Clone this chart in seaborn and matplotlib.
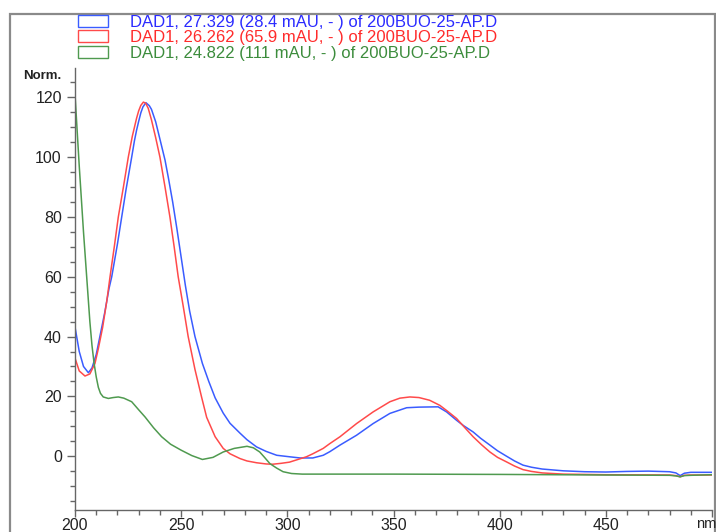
import numpy as np
import pandas as pd
import matplotlib
matplotlib.use("Agg")
import matplotlib.pyplot as plt
from matplotlib.patches import Patch, Rectangle
from matplotlib.ticker import MultipleLocator
import seaborn as sns

# ---------------- data ----------------
blue_nm = [200, 202, 204, 206.3, 208, 210, 212, 214, 216, 217.3, 220, 222, 224, 226.7, 228, 229, 230,
           231, 232, 233.4, 235, 236, 238, 240, 242.4, 244, 246, 248, 250, 252, 254, 256.5,
           260, 263, 266, 269.8, 273, 277.7, 281, 285.5, 290, 295, 301, 306, 312, 316.9, 320, 324.8,
           332.6, 340.4, 348.3, 356.2, 362, 371, 375, 379.7, 383, 387.5, 391, 395.4, 399, 403.2,
           407, 411, 415, 420, 430, 440, 450, 460, 470, 480, 483, 485, 487, 490, 500]
blue_val = [43.2, 35, 30, 27.9, 29.5, 34, 41, 48, 56, 60, 71, 80, 89, 100, 105.5, 109, 112,
            114.8, 116.8, 118.2, 117.2, 116, 111.8, 106, 99, 93, 85, 76, 66.5, 57, 48.5, 40,
            31, 25, 19.5, 14.4, 11, 7.7, 5.5, 3.1, 1.6, 0.3, -0.2, -0.6, -0.6, 0.3, 1.5, 3.7,
            7, 10.9, 14.3, 16.2, 16.4, 16.5, 14.8, 12, 10.2, 8.1, 6, 3.7, 1.8, 0,
            -1.6, -3, -3.7, -4.3, -4.9, -5.2, -5.3, -5.1, -5.0, -5.2, -5.6, -6.5, -5.7, -5.4, -5.4]

red_nm = [200, 202, 204.7, 207, 209.4, 211, 213, 215, 216.5, 218.5, 220.4, 222.8, 225.1, 227, 229,
          230, 231, 232.2, 233.3, 234.5, 236, 238, 240, 242.4, 244.7, 246.7, 248.6, 251, 253.3,
          256.5, 259.6, 262, 266, 269.8, 273, 277.7, 281, 285.5, 290, 293, 297, 301, 305, 309, 312,
          316.9, 320, 324.8, 332.6, 340.4, 348.3, 353, 357.7, 362, 367, 371.8, 375.5, 379.7, 383.5,
          387.5, 391.5, 395.4, 399, 403.2, 407, 411, 415, 420, 430, 450, 480, 483, 485, 487, 490, 500]
red_val = [32.8, 28.5, 26.8, 27.5, 31, 36, 43, 52, 60, 70, 80, 90, 100, 107, 113,
           115.5, 117.3, 118.4, 118, 116.3, 112.5, 106.5, 100, 90, 80, 70, 60, 50, 40,
           29, 19.8, 13, 6.5, 2.6, 0.8, -0.8, -1.6, -2.2, -2.6, -2.7, -2.4, -2, -1.1, -0.2, 0.8,
           2.6, 4.2, 6.5, 10.9, 14.8, 18.2, 19.4, 19.8, 19.6, 18.7, 17, 15, 12.6, 9.6,
           6.5, 3.8, 1.4, -0.4, -1.9, -3.3, -4.5, -5.1, -5.6, -6.0, -6.2, -6.3, -6.5, -6.9, -6.4, -6.3, -6.3]

green_nm = [200, 201, 202, 203, 204, 205, 206, 207, 208, 209, 210, 211, 212, 213.3, 215.7, 218, 220.4,
            223, 226.7, 230, 233, 237, 240.8, 245, 250, 255, 260, 265, 269.8, 275, 281, 284, 287,
            289.5, 291.8, 295, 298, 302, 307, 350, 400, 450, 480, 483, 485, 487, 490, 500]
green_val = [121, 109, 97, 86, 75, 65, 55, 45, 37, 31, 26.5, 23, 21, 19.8, 19.3, 19.6, 19.8,
             19.4, 18.2, 15.5, 13.1, 9.5, 6.5, 4, 2, 0.2, -1.1, -0.4, 1.4, 2.6, 3.3, 2.8, 1.4,
             -0.6, -2.5, -4, -5.2, -5.8, -6, -6, -6.1, -6.3, -6.4, -6.6, -6.9, -6.5, -6.4, -6.2]

labels = ["DAD1, 27.329 (28.4 mAU, - ) of 200BUO-25-AP.D",
          "DAD1, 26.262 (65.9 mAU, - ) of 200BUO-25-AP.D",
          "DAD1, 24.822 (111 mAU, - ) of 200BUO-25-AP.D"]
line_colors = ["#3a5cff", "#ff4a4a", "#4f9a4f"]
text_colors = ["#2b2bff", "#ff2b2b", "#3c8c3c"]

x_ticks = [200, 250, 300, 350, 400, 450]
y_ticks = [0, 20, 40, 60, 80, 100, 120]

# ---------------- plot ----------------
sns.set_style("white")
plt.rcParams["font.family"] = ["Liberation Sans", "DejaVu Sans"]

W, H = 716, 532
fig = plt.figure(figsize=(W / 100, H / 100), dpi=100)
ax = fig.add_axes([75 / W, (H - 510) / H, (712 - 75) / W, (510 - 68) / H])

series = [(blue_nm, blue_val), (red_nm, red_val), (green_nm, green_val)]
for (xs, ys), c in zip(series, line_colors):
    df = pd.DataFrame({"nm": xs, "val": ys})
    sns.lineplot(data=df, x="nm", y="val", ax=ax, color=c, linewidth=1.1,
                 sort=False, estimator=None)

ax.set_xlim(200, 500)
ax.set_ylim(-18, 129.8)
ax.set_xlabel("")
ax.set_ylabel("")

for s in ["top", "right"]:
    ax.spines[s].set_visible(False)
for s in ["left", "bottom"]:
    ax.spines[s].set_color("#666666")
    ax.spines[s].set_linewidth(1.0)

ax.set_xticks(x_ticks + [500])
ax.set_xticklabels([str(t) for t in x_ticks] + [""])
ax.set_yticks(y_ticks)
ax.set_yticklabels([str(t) for t in y_ticks])
ax.xaxis.set_minor_locator(MultipleLocator(10))
ax.yaxis.set_minor_locator(MultipleLocator(5))
ax.tick_params(axis="x", which="both", bottom=True)
ax.tick_params(axis="y", which="both", left=True)
ax.tick_params(axis="both", which="major", direction="out", length=5, width=1.0,
               color="#666666", labelsize=11.5, labelcolor="#222222")
ax.tick_params(axis="y", which="major", length=6, pad=3.5)
ax.tick_params(axis="x", which="major", pad=1)
ax.tick_params(axis="both", which="minor", direction="out", length=3.5, width=1.0,
               color="#666666")

# axis unit labels
fig.text(716 / W, (H - 524) / H, "nm", ha="right", va="center", fontsize=10.5, color="#222222")
fig.text(61 / W, (H - 76) / H, "Norm.", ha="right", va="center", fontsize=9.5,
         fontweight="bold", color="#222222")

# legend with open boxes
handles = [Patch(facecolor="none", edgecolor=c, linewidth=1.0) for c in line_colors]
leg = fig.legend(handles, labels, loc="upper left", bbox_to_anchor=(78 / W, (H - 14.5) / H),
                 frameon=False, fontsize=12, handlelength=1.78, handleheight=0.72,
                 handletextpad=1.35, labelspacing=0.04, borderpad=0, borderaxespad=0)
for t, c in zip(leg.get_texts(), text_colors):
    t.set_color(c)

# outer frame
fig.patches.append(Rectangle((10 / W, -0.05), (715 - 10) / W, (H - 13.5) / H + 0.05,
                             transform=fig.transFigure, fill=False,
                             edgecolor="#8a8a8a", linewidth=1.6))

fig.savefig("out.png", dpi=100)
